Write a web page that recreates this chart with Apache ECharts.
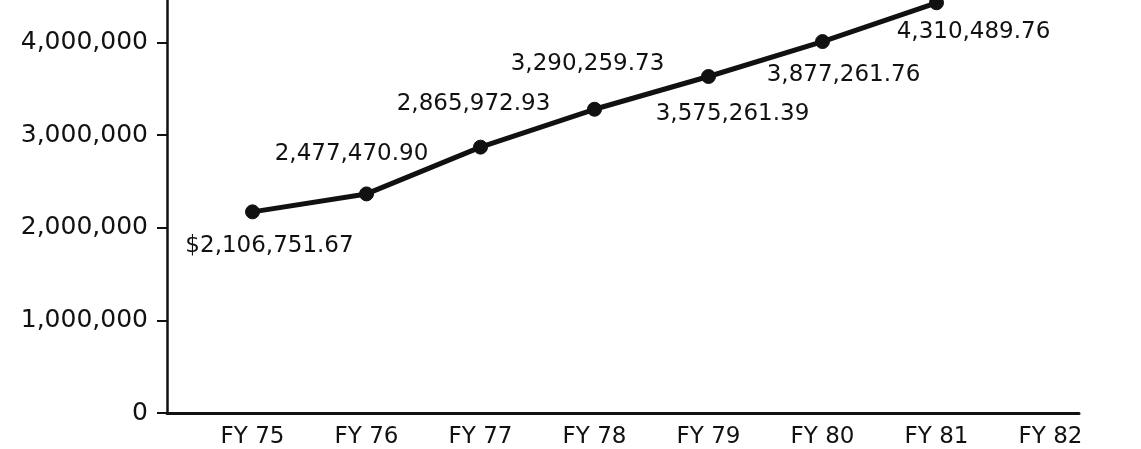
<!DOCTYPE html>
<html>
<head>
<meta charset="utf-8">
<script src="https://cdn.jsdelivr.net/npm/echarts@6/dist/echarts.min.js"></script>
<style>
  html, body { margin: 0; padding: 0; background: #ffffff; }
  #chart { width: 1141px; height: 449px; }
</style>
</head>
<body>
<div id="chart"></div>
<script>
// ---- data ----
const categories = ['FY 75', 'FY 76', 'FY 77', 'FY 78', 'FY 79', 'FY 80', 'FY 81', 'FY 82'];
const amounts = [2172000, 2366000, 2871000, 3280000, 3634000, 4011000, 4430000];
const valueLabels = ['$2,106,751.67', '2,477,470.90', '2,865,972.93', '3,290,259.73', '3,575,261.39', '3,877,261.76', '4,310,489.76'];
const yTickValues = [0, 1000000, 2000000, 3000000, 4000000];
const yAxisMax = 4460000;

// ---- layout (label placement relative to each point) ----
const labelOffsets = [[17, 34], [-15, -40], [-7, -43], [-7, -45], [24, 38], [21, 33], [37, 29]];

const ink = '#111111';
const font = 'DejaVu Sans';

const chart = echarts.init(document.getElementById('chart'), null, { renderer: 'canvas' });

const seriesData = amounts.map((v, i) => ({
  value: [i, v],
  label: { offset: labelOffsets[i], formatter: valueLabels[i] }
}));

chart.setOption({
  backgroundColor: '#ffffff',
  animation: false,
  grid: { left: 167, right: 62, top: 0, bottom: 34, containLabel: false },
  xAxis: {
    type: 'value',
    min: -0.75,
    max: 7.25,
    interval: 0.25,
    axisLine: { show: true, onZero: false, lineStyle: { color: ink, width: 3 } },
    axisTick: { show: false },
    splitLine: { show: false },
    axisLabel: {
      color: ink,
      fontFamily: font,
      fontSize: 23,
      margin: 13,
      hideOverlap: false,
      formatter: function (v) {
        const r = Math.round(v);
        if (Math.abs(v - r) < 1e-6 && categories[r] !== undefined) return categories[r];
        return '';
      }
    }
  },
  yAxis: {
    type: 'value',
    min: 0,
    max: yAxisMax,
    interval: 1000000,
    axisLine: { show: true, onZero: false, lineStyle: { color: ink, width: 2.5 } },
    axisTick: { show: true, inside: false, length: 10, customValues: yTickValues, lineStyle: { color: ink, width: 2 } },
    splitLine: { show: false },
    axisLabel: {
      color: ink,
      fontFamily: font,
      fontSize: 25,
      margin: 19,
      customValues: yTickValues,
      formatter: function (v) {
        return yTickValues.indexOf(v) >= 0 ? v.toLocaleString('en-US') : '';
      }
    }
  },
  series: [{
    type: 'line',
    data: seriesData,
    symbol: 'circle',
    symbolSize: 14,
    showAllSymbol: true,
    clip: false,
    lineStyle: { color: ink, width: 5 },
    itemStyle: { color: ink, borderColor: ink, borderWidth: 1 },
    label: {
      show: true,
      position: 'inside',
      color: ink,
      fontFamily: font,
      fontSize: 23
    },
    emphasis: { disabled: true }
  }]
});
</script>
</body>
</html>
